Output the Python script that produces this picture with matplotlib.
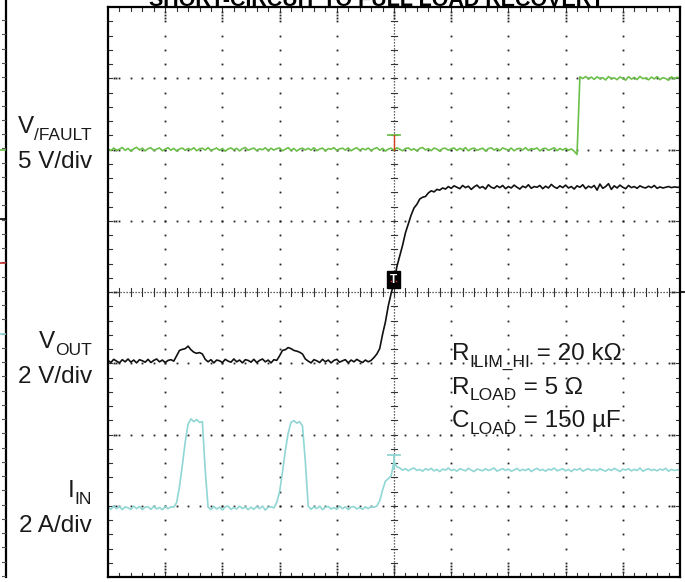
import numpy as np
import matplotlib
matplotlib.use("Agg")
import matplotlib.pyplot as plt
from matplotlib.patches import Rectangle, Polygon

# ---------------------------------------------------------------------------
# Acquisition: one sample every 0.05 horizontal division, 10 divisions wide
# ---------------------------------------------------------------------------
SAMPLE_DIV = 0.05

# Channel 1: /FAULT pin voltage (V)
vfault_v = [
    0.04, -0.08, 0.10, -0.05, 0.02, 0.14, -0.06, 0.08, -0.12, 0.05,
    0.15, -0.03, 0.09, -0.10, 0.06, 0.12, -0.07, 0.03, 0.11, -0.09,
    0.02, 0.13, -0.05, 0.08, -0.11, 0.04, 0.10, -0.06, 0.07, -0.02,
    0.12, -0.09, 0.05, 0.09, -0.04, 0.13, -0.08, 0.02, 0.10, -0.06,
    0.07, -0.12, 0.04, 0.11, -0.03, 0.08, -0.10, 0.06, 0.14, -0.05,
    0.03, 0.10, -0.08, 0.05, -0.02, 0.12, -0.07, 0.09, -0.04, 0.06,
    0.11, -0.09, 0.02, 0.13, -0.06, 0.07, -0.11, 0.04, 0.09, -0.03,
    0.08, -0.05, 0.12, -0.08, 0.03, 0.10, -0.10, 0.06, 0.02, 0.13,
    -0.07, 0.05, 0.09, -0.04, 0.11, -0.09, 0.04, 0.12, -0.06, 0.07,
    -0.02, 0.10, -0.08, 0.05, 0.13, -0.05, 0.08, -0.11, 0.03, 0.09,
    -0.06, 0.12, 0.02, -0.09, 0.07, 0.11, -0.04, 0.05, -0.10, 0.08,
    0.14, -0.03, 0.06, -0.08, 0.10, 0.03, -0.12, 0.07, 0.09, -0.05,
    0.04, 0.11, -0.07, 0.08, -0.02, 0.13, -0.09, 0.05, 0.10, -0.06,
    0.02, 0.09, -0.11, 0.06, 0.12, -0.04, 0.07, -0.08, 0.11, 0.03,
    -0.05, 0.10, -0.09, 0.04, 0.08, -0.03, 0.13, -0.07, 0.06, 0.02,
    0.11, -0.10, 0.05, 0.09, -0.06, 0.03, 0.12, -0.08, 0.07, -0.04,
    0.08, -0.05, 0.04, -0.12, -0.35, 5.10, 4.98, 5.12, 4.95, 5.08,
    4.92, 5.10, 4.97, 5.04, 4.88, 5.12, 4.96, 5.03, 4.90, 5.09,
    4.99, 4.87, 5.11, 4.94, 5.06, 4.91, 5.13, 4.97, 5.02, 4.89,
    5.08, 4.95, 5.12, 4.90, 5.04, 4.98, 4.86, 5.10, 4.96, 5.07,
    5.00,
]

# Channel 2: output voltage (V)
vout_v = [
    0.02, -0.04, 0.05, 0.00, -0.05, 0.04, -0.02, 0.06, -0.03, 0.03,
    -0.05, 0.04, 0.01, -0.03, 0.05, -0.04, 0.02, 0.06, -0.02, 0.03,
    -0.04, 0.02, 0.04, 0.00, 0.15, 0.30, 0.33, 0.35, 0.42, 0.32,
    0.25, 0.22, 0.24, 0.20, 0.05, -0.02, 0.04, -0.05, 0.03, 0.01,
    -0.04, 0.05, 0.00, -0.03, 0.06, -0.02, 0.03, -0.05, 0.04, 0.02,
    -0.03, 0.05, -0.04, 0.02, 0.06, -0.02, 0.03, -0.05, 0.04, 0.02,
    0.15, 0.30, 0.32, 0.38, 0.35, 0.30, 0.28, 0.25, 0.20, 0.06,
    0.00, -0.05, 0.04, 0.01, -0.04, 0.05, -0.02, 0.03, -0.05, 0.02,
    0.05, -0.03, 0.01, 0.04, -0.05, 0.03, -0.02, 0.05, 0.00, -0.04,
    0.03, -0.02, 0.02, 0.10, 0.20, 0.35, 0.75, 1.10, 1.55, 1.90,
    2.20, 2.65, 2.95, 3.25, 3.60, 3.85, 4.10, 4.30, 4.40, 4.55,
    4.60, 4.62, 4.72, 4.78, 4.75, 4.82, 4.80, 4.86, 4.83, 4.90,
    4.85, 4.92, 4.88, 4.84, 4.93, 4.87, 4.91, 4.82, 4.89, 4.94,
    4.86, 4.90, 4.83, 4.95, 4.88, 4.85, 4.92, 4.87, 4.93, 4.84,
    4.90, 4.86, 4.94, 4.88, 4.83, 4.91, 4.87, 4.95, 4.85, 4.90,
    4.88, 4.93, 4.84, 4.91, 4.86, 4.96, 4.89, 4.85, 4.92, 4.87,
    4.94, 4.86, 4.90, 4.83, 4.92, 4.88, 4.95, 4.84, 4.91, 4.87,
    4.93, 4.80, 4.97, 4.85, 4.90, 4.98, 4.82, 4.92, 4.86, 4.94,
    4.88, 4.84, 4.93, 4.87, 4.90, 4.85, 4.92, 4.88, 4.86, 4.91,
    4.87, 4.93, 4.85, 4.89, 4.86, 4.88, 4.90, 4.87, 4.89, 4.88,
    4.88,
]

# Channel 3: input current (A)
iin_a = [
    0.02, -0.04, 0.05, -0.02, 0.04, -0.05, 0.03, 0.00, -0.04, 0.05,
    -0.02, 0.04, -0.05, 0.02, 0.03, -0.04, 0.05, -0.03, 0.01, -0.05,
    0.04, -0.02, 0.03, 0.02, 0.15, 0.60, 1.20, 1.85, 2.35, 2.50,
    2.42, 2.48, 2.40, 2.42, 1.05, 0.02, -0.05, 0.04, -0.03, 0.02,
    -0.06, 0.03, 0.05, -0.04, 0.01, -0.03, 0.05, -0.02, 0.03, -0.05,
    0.02, -0.04, 0.04, -0.02, 0.05, -0.06, 0.02, 0.03, 0.00, 0.15,
    0.45, 1.00, 1.60, 2.10, 2.40, 2.45, 2.38, 2.42, 2.30, 1.30,
    0.05, -0.04, 0.03, -0.02, 0.05, -0.05, 0.02, 0.04, -0.03, 0.01,
    -0.04, 0.05, -0.02, 0.03, -0.05, 0.02, 0.04, -0.03, 0.01, -0.04,
    0.03, -0.02, 0.04, 0.02, 0.05, 0.20, 0.50, 0.75, 0.82, 0.90,
    1.30, 1.15, 1.12, 1.06, 1.10, 1.04, 1.09, 1.12, 1.05, 1.08,
    1.03, 1.10, 1.06, 1.11, 1.04, 1.08, 1.02, 1.09, 1.06, 1.12,
    1.05, 1.08, 1.03, 1.10, 1.07, 1.04, 1.11, 1.06, 1.02, 1.09,
    1.07, 1.04, 1.10, 1.05, 1.08, 1.12, 1.03, 1.07, 1.10, 1.05,
    1.09, 1.03, 1.06, 1.11, 1.04, 1.08, 1.05, 1.10, 1.02, 1.07,
    1.11, 1.05, 1.08, 1.03, 1.09, 1.06, 1.12, 1.04, 1.07, 1.10,
    1.04, 1.08, 1.02, 1.09, 1.06, 1.11, 1.03, 1.07, 1.10, 1.05,
    1.08, 1.04, 1.10, 1.06, 1.03, 1.09, 1.05, 1.11, 1.07, 1.02,
    1.09, 1.06, 1.10, 1.04, 1.08, 1.05, 1.12, 1.03, 1.07, 1.10,
    1.05, 1.08, 1.04, 1.09, 1.06, 1.11, 1.03, 1.08, 1.05, 1.07,
    1.06,
]

title = "SHORT-CIRCUIT TO FULL LOAD RECOVERY"

# channel label: (main, subscript, scale text, units per division, zero position in div)
ch_vfault = ("V", "/FAULT", "5 V/div", 5.0, 6.0)
ch_vout = ("V", "OUT", "2 V/div", 2.0, 3.03)
ch_iin = ("I", "IN", "2 A/div", 2.0, 0.97)

conditions = [
    ("R", "ILIM_HI", " = 20 k\u03a9"),
    ("R", "LOAD", " = 5 \u03a9"),
    ("C", "LOAD", " = 150 \u00b5F"),
]

# ---------------------------------------------------------------------------
W, H, DPI = 685, 582, 100
GREEN = "#6cc04a"
CYAN = "#8fd6d4"
BLACK = "#111111"
plt.rcParams["font.family"] = ["Liberation Sans", "DejaVu Sans"]

fig = plt.figure(figsize=(W / DPI, H / DPI), dpi=DPI)
fig.patch.set_facecolor("white")

# screen graticule, 10 x 8 divisions
L, R, T, B = 108, 680, 7, 577
ax = fig.add_axes([L / W, (H - B) / H, (R - L) / W, (B - T) / H])
ax.set_xlim(0, 10)
ax.set_ylim(0, 8)
ax.set_xticks([])
ax.set_yticks([])
for s in ax.spines.values():
    s.set_linewidth(1.6)
    s.set_color("black")
    s.set_zorder(10)

# overlay in pixel units for annotations outside the graticule
ov = fig.add_axes([0, 0, 1, 1], zorder=-1)
ov.set_xlim(0, W)
ov.set_ylim(H, 0)
ov.axis("off")

minor = np.round(np.arange(0.2, 10.0, 0.2), 3)
minor_y = np.round(np.arange(0.2, 8.0, 0.2), 3)
dot = dict(ls="none", marker="s", ms=1.3, mew=0, color="#222222")

# dotted division lines
for yk in [1, 2, 3, 5, 6, 7]:
    ax.plot(minor, np.full_like(minor, yk), **dot)
for xk in [1, 2, 3, 4, 6, 7, 8, 9]:
    ax.plot(np.full_like(minor_y, xk), minor_y, **dot)

# centre axes with minor ticks
ax.plot([0, 10], [4, 4], color="#333333", lw=0.9, ls=(0, (1, 1.4)))
ax.plot([5, 5], [0, 8], color="#333333", lw=0.9, ls=(0, (1, 1.4)))
for xv in minor:
    ax.plot([xv, xv], [4 - 0.05, 4 + 0.05], color="#333333", lw=0.8)
for yv in minor_y:
    ax.plot([5 - 0.06, 5 + 0.06], [yv, yv], color="#333333", lw=0.8)

# border ticks
for xv in minor:
    ax.plot([xv, xv], [8, 8 - 0.05], color="#333333", lw=0.8)
    ax.plot([xv, xv], [0, 0.05], color="#333333", lw=0.8)
for yv in minor_y:
    ax.plot([0, 0.07], [yv, yv], color="#333333", lw=0.8)
    ax.plot([10, 10 - 0.07], [yv, yv], color="#333333", lw=0.8)
for xk in range(1, 10):
    ax.plot([xk, xk, xk], [7.93, 7.89, 7.85], **dot)
    ax.plot([xk, xk, xk], [0.07, 0.11, 0.15], **dot)
for yk in range(1, 8):
    ax.plot([0.1, 0.14], [yk, yk], **dot)
    ax.plot([9.9, 9.86], [yk, yk], **dot)

# traces
t = np.arange(len(vfault_v)) * SAMPLE_DIV
for data, ch, col, lw in [(vfault_v, ch_vfault, GREEN, 1.2), (iin_a, ch_iin, CYAN, 1.2),
                          (vout_v, ch_vout, BLACK, 1.2)]:
    scale, pos = ch[3], ch[4]
    ax.plot(t, pos + np.asarray(data) / scale, color=col, lw=lw, zorder=5,
            solid_joinstyle="round")

# trigger level markers on the trigger position
ax.plot([4.9, 5.1], [6.2, 6.2], color=GREEN, lw=1.3, zorder=6)
ax.plot([5.0, 5.0], [6.2, 6.0], color="#d04020", lw=1.0, zorder=6)
ax.plot([4.9, 5.1], [1.71, 1.71], color=CYAN, lw=1.3, zorder=6)
ax.plot([5.0, 5.0], [1.71, 1.52], color=CYAN, lw=1.3, zorder=6)

# trigger time marker
ax.add_patch(Rectangle((4.87, 4.05), 0.23, 0.245, facecolor="black", edgecolor="black", zorder=8))
ax.text(4.985, 4.17, "T", color="white", fontsize=8.5, fontweight="bold", ha="center", va="center", zorder=9)
ax.plot([4.95, 5.03], [4.15, 4.15], ls="none", marker="s", ms=1.0, mew=0, color="#e03030", zorder=9)

# right-hand trigger arrow
ov.add_patch(Polygon([[668, 292], [680, 286], [680, 298]], closed=True, facecolor="black",
                     edgecolor="black", zorder=12, clip_on=False))
ov.plot([680, 685], [292, 292], color="black", lw=1.2, zorder=12)
ov.plot([669], [292], ls="none", marker="s", ms=1.2, mew=0, color="#e03030", zorder=13)

# neighbouring graticule edge on the far left with channel ground markers
ov.plot([6, 6], [0, 577], color="black", lw=1.6)
for yk in np.arange(20, 577, 14.25):
    ov.plot([2, 5], [yk, yk], color="#555555", lw=0.8)
ov.plot([0, 5], [150, 150], color=GREEN, lw=1.2)
ov.plot([0, 5], [219, 219], color="black", lw=1.2)
ov.plot([0, 5], [263, 263], color="#c03030", lw=1.2)
ov.plot([0, 5], [334, 334], color=CYAN, lw=1.2)

# title, mostly cropped off above the screen
fig.text(377 / W, 1 - 6 / H, title, ha="center", va="baseline", fontsize=15.5,
         fontweight="bold", color="black")

MAIN, SUB, DROP = 17.5, 12.5, 7.0
renderer = fig.canvas.get_renderer()


def rich_text(pieces, x_px, base_px, align="left"):
    arts = []
    for s, is_sub in pieces:
        txt = fig.text(0, 0, s, fontsize=SUB if is_sub else MAIN, va="baseline", ha="left",
                       color="#1a1a1a")
        arts.append((txt, is_sub, txt.get_window_extent(renderer).width))
    total = sum(a[2] for a in arts)
    x = x_px - total if align == "right" else x_px
    for txt, is_sub, w in arts:
        y = base_px + (DROP if is_sub else 0)
        txt.set_position((x / W, 1 - y / H))
        x += w


for ch, base in [(ch_vfault, 133), (ch_vout, 348), (ch_iin, 497)]:
    rich_text([(ch[0], False), (ch[1], True)], 92, base, align="right")
    rich_text([(ch[2], False)], 92, base + 35, align="right")

for k, (m, s, rest) in enumerate(conditions):
    rich_text([(m, False), (s, True), (rest, False)], 452, 360 + 33.5 * k)

fig.savefig("out.png", dpi=DPI, facecolor="white")
